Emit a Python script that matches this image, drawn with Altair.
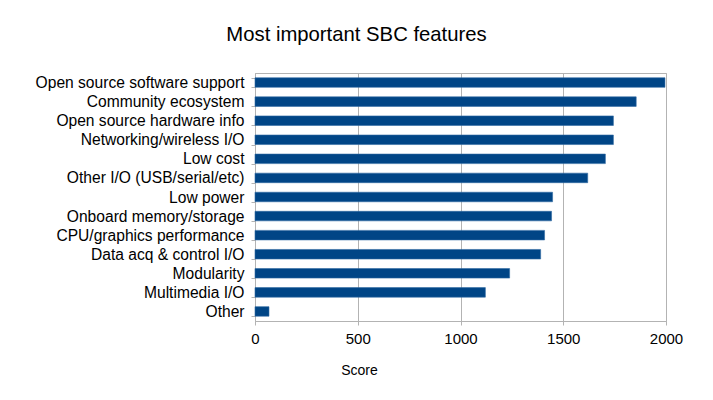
import altair as alt
import pandas as pd

features = [
    "Open source software support",
    "Community ecosystem",
    "Open source hardware info",
    "Networking/wireless I/O",
    "Low cost",
    "Other I/O (USB/serial/etc)",
    "Low power",
    "Onboard memory/storage",
    "CPU/graphics performance",
    "Data acq & control I/O",
    "Modularity",
    "Multimedia I/O",
    "Other",
]
scores = [1995, 1855, 1744, 1744, 1705, 1619, 1448, 1443, 1409, 1390, 1239, 1121, 68]

df = pd.DataFrame({"Feature": features, "Score": scores})

FONT = "Liberation Sans"

chart = (
    alt.Chart(df)
    .mark_bar(color="#004586", stroke="#2f6aa3", strokeWidth=0.6)
    .encode(
        x=alt.X(
            "Score:Q",
            scale=alt.Scale(domain=[0, 2000], nice=False),
            axis=alt.Axis(
                values=[0, 500, 1000, 1500, 2000],
                format="d",
                title="Score",
                titleX=104,
                titleY=53,
                titleAnchor="start",
                titleAlign="center",
                titleBaseline="alphabetic",
                titleFont=FONT,
                titleFontSize=14,
                titleFontWeight="normal",
                titleColor="black",
                labelFont=FONT,
                labelFontSize=15,
                labelColor="black",
                labelPadding=6,
                tickSize=4,
                tickColor="#b3b3b3",
                domainColor="#b3b3b3",
                gridColor="#b3b3b3",
                grid=True,
                labelFlush=False,
            ),
        ),
        y=alt.Y(
            "Feature:N",
            sort=features,
            scale=alt.Scale(paddingInner=0.5, paddingOuter=0.25),
            axis=alt.Axis(
                title=None,
                labelFont=FONT,
                labelFontSize=15.6,
                labelColor="black",
                labelPadding=7,
                labelLimit=0,
                tickSize=4,
                tickBand="extent",
                tickColor="#b3b3b3",
                domainColor="#b3b3b3",
                grid=False,
            ),
        ),
    )
    .properties(
        width=411,
        height=248,
        autosize=alt.AutoSizeParams(type="none"),
        padding={"left": 247, "top": 65, "right": 30, "bottom": 60},
        title=alt.TitleParams(
            "Most important SBC features",
            font=FONT,
            fontSize=20.3,
            fontWeight="normal",
            color="black",
            anchor="middle",
            dx=-104,
            baseline="alphabetic",
            offset=5,
        ),
    )
    .configure_view(stroke="#b3b3b3", strokeWidth=1)
)

chart.save("out.html", embed_options={"renderer": "svg", "actions": False})
